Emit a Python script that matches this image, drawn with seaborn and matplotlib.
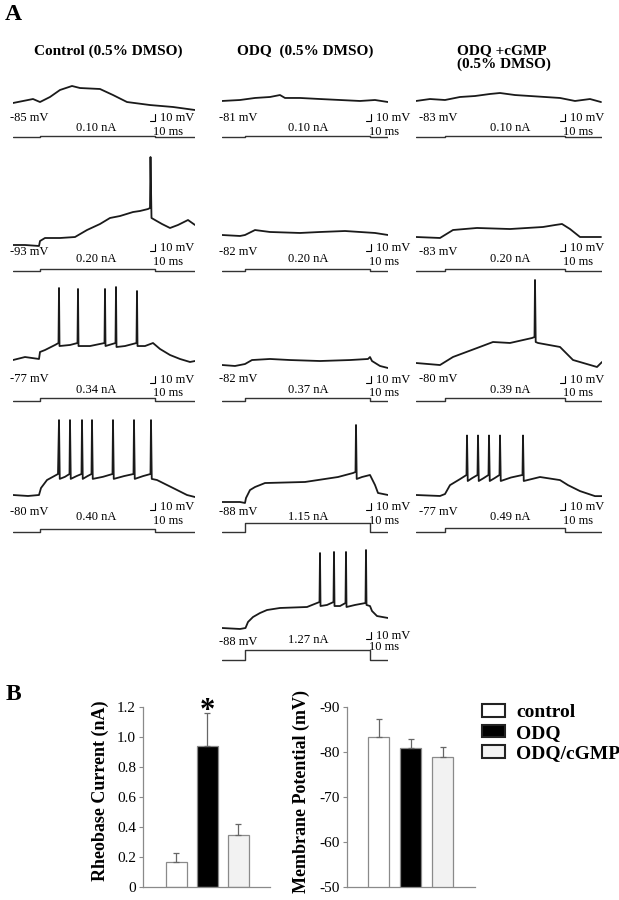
import matplotlib
matplotlib.use("Agg")
import matplotlib.pyplot as plt
from matplotlib.patches import Patch
import pandas as pd
import seaborn as sns

W, H = 619, 900
MS_PER_PX = 2.0        # 10 ms scale bar ~ 5 px
MV_PER_PX = 10 / 7     # 10 mV scale bar ~ 7 px
NA_PER_PX = 1 / 8

# ---- panel A: membrane potential traces, (ms, mV)
ctrl_r1 = [(0, -85), (40, -79.3), (54, -83.6), (74, -76.4), (94, -66.4), (118, -60.7),
           (134, -63.6), (174, -65), (200, -73.6), (228, -83.6), (274, -87.9),
           (320, -90.7), (364, -95)]
ctrl_r2 = [(0, -93), (24, -93), (52, -94.4), (54, -87.3), (64, -83), (94, -83), (124, -81.6),
           (148, -71.6), (174, -63), (194, -54.4), (214, -51.6), (240, -45.9), (254, -44.4),
           (270, -41.6), (274, -40.1), (275, 32.7), (277, -54.4), (284, -57.3), (298, -63),
           (314, -68.7), (330, -64.4), (350, -57.3), (364, -64.4)]
ctrl_r3 = [(0, -79.9), (24, -75.6), (52, -78.4), (54, -68.4), (64, -65.6), (84, -58.4),
           (91, -55.6), (92, 23), (93, -59.9), (114, -58.4), (129, -55.6), (130, 21.6),
           (131, -59.9), (154, -59.9), (183, -55.6), (184, 21.6), (185, -59.9), (205, -55.6),
           (206, 24.4), (207, -61.3), (224, -59.9), (247, -55.6), (248, 18.7), (249, -59.9),
           (264, -59.9), (280, -55.6), (294, -64.1), (314, -72.7), (334, -78.4),
           (354, -82.7), (364, -81.3)]
ctrl_r4 = [(0, -80), (30, -81.4), (52, -80), (56, -70), (68, -58.6), (90, -50), (92, 27),
           (93.5, -57), (104, -54), (113, -50), (114, 27), (115.5, -57), (127, -53),
           (137, -50), (138, 27), (139.5, -57), (149, -53), (157, -50), (158, 27),
           (159.5, -57), (180, -54), (199, -50), (200, 27), (201.5, -57), (222, -53),
           (241, -50), (242, 27), (243.5, -57), (260, -53), (275, -50), (276, 27),
           (277.5, -57), (288, -58.6), (304, -64.3), (324, -71.4), (348, -80), (364, -82.9)]
odq_r1 = [(0, -82.4), (36, -81), (66, -78.1), (96, -76.7), (116, -73.9), (126, -78.1),
          (156, -78.1), (196, -79.6), (236, -81), (276, -82.4), (306, -81), (332, -83.9)]
odq_r2 = [(0, -82), (36, -83.4), (46, -82), (66, -74.9), (96, -77.7), (156, -79.1),
          (196, -77.7), (246, -76.3), (276, -77.7), (306, -79.1), (332, -82)]
odq_r3 = [(0, -82), (26, -83.4), (46, -80.6), (60, -74.9), (96, -73.4), (136, -74.9),
          (196, -76.3), (256, -74.9), (292, -73.4), (296, -70.6), (300, -76.3),
          (316, -83.4), (332, -86.3)]
odq_r4 = [(0, -88), (36, -88), (46, -89.4), (48, -82.3), (56, -70.9), (66, -66.6),
          (86, -60.9), (166, -59.4), (232, -52.3), (262, -46.6), (267, -45.1), (268, 22),
          (269.4, -55.1), (280, -52.3), (296, -49.4), (306, -63.7), (312, -75.1), (332, -78)]
odq_r5 = [(0, -88), (36, -89.4), (47, -88), (52, -79.4), (62, -72.3), (76, -66.6),
          (90, -62.3), (116, -59.4), (170, -58), (190, -52.3), (195, -50.9), (196, 19.1),
          (197, -56.6), (210, -55.1), (223, -50.9), (224, 20.6), (225, -56.6), (236, -56.6),
          (247, -52.3), (248, 20.6), (249, -58), (266, -55.1), (287, -52.3), (288, 23.4),
          (289, -55.1), (296, -56.6), (300, -63.7), (310, -70.9), (332, -73.7)]
cgmp_r1 = [(0, -84.4), (28, -81.6), (58, -83), (88, -78.7), (118, -77.3), (148, -74.4),
           (168, -73), (198, -75.9), (228, -77.3), (258, -78.7), (288, -80.1),
           (318, -84.4), (348, -81.6), (370, -85.9)]
cgmp_r2 = [(0, -83), (48, -84.4), (74, -73), (122, -70.1), (188, -71.6), (254, -68.7),
           (278, -65.9), (292, -64.4), (308, -71.6), (328, -83), (348, -83), (370, -83)]
cgmp_r3 = [(0, -80), (48, -82.9), (74, -71.4), (122, -58.6), (154, -50), (188, -51.4),
           (232, -44.3), (237, -42.9), (238, 38.6), (239.4, -50), (244, -51.4), (288, -57.1),
           (314, -75.7), (362, -85.7), (372, -78.6)]
cgmp_r4 = [(0, -77), (48, -78.4), (58, -75.6), (68, -62.9), (88, -54.3), (101, -48.4),
           (102, 8), (103.5, -57), (112, -53), (123, -48.4), (124, 8), (125.5, -57),
           (135, -53), (145, -48.4), (146, 8), (147.5, -57), (157, -53), (167, -48.4),
           (168, 8), (169.5, -57), (190, -52), (213, -48.4), (214, 8), (215.5, -57),
           (248, -51.3), (288, -55.7), (304, -62.9), (328, -71.4), (358, -78.6), (372, -78.6)]

traces = [ctrl_r1, odq_r1, cgmp_r1, ctrl_r2, odq_r2, cgmp_r2,
          ctrl_r3, odq_r3, cgmp_r3, ctrl_r4, odq_r4, cgmp_r4, odq_r5]
rest_mv = [-85, -81, -83, -93, -82, -83, -77, -82, -80, -80, -88, -77, -88]
step_na = [0.10, 0.10, 0.10, 0.20, 0.20, 0.20, 0.34, 0.37, 0.39, 0.40, 1.15, 0.49, 1.27]

col_titles = ["Control (0.5% DMSO)", "ODQ  (0.5% DMSO)", "ODQ +cGMP\n(0.5% DMSO)"]
sweep_ms = [364, 332, 372]      # per column
step_on_ms = [54, 46, 58]
step_off_ms = [284, 296, 298]
SCALE_MS, SCALE_MV = 10, 10

# ---- panel B
groups = ["control", "ODQ", "ODQ/cGMP"]
rheobase_mean = [0.17, 0.94, 0.35]
rheobase_sem = [0.06, 0.22, 0.07]
vm_mean = [-83.3, -80.9, -78.9]
vm_sem = [4.0, 1.9, 2.2]
bar_colors = ["white", "black", "#f2f2f2"]

# ---- layout (pixels)
cell_row = [0, 0, 0, 1, 1, 1, 2, 2, 2, 3, 3, 3, 4]
cell_col = [0, 1, 2, 0, 1, 2, 0, 1, 2, 0, 1, 2, 1]
cell_ybase = [103, 100, 100, 245, 235, 237, 358, 365, 363, 495, 502, 495, 628]
X_START = [13, 222, 416]
X_MV = [10, 219, 419]
X_NA = [96, 308, 510]
X_SB = [150, 366, 560]
Y_MV = [118, 252, 379, 512, 642]
Y_NA = [128, 259, 390, 517, 640]
Y_SB = [118, 248, 380, 507, 636]
Y_MS = [132, 262, 393, 521, 647]
Y_CUR = [137, 271, 401, 532, 660]

sns.set_theme(style="ticks")
plt.rcParams["font.family"] = ["Liberation Serif", "DejaVu Serif"]
plt.rcParams["text.color"] = "black"
plt.rcParams["axes.labelcolor"] = "black"
plt.rcParams["ytick.labelcolor"] = "black"

fig = plt.figure(figsize=(W / 100, H / 100), dpi=100)
fig.patch.set_facecolor("white")


def px_axes(x0, x1, y_top, y_bot):
    return fig.add_axes([x0 / W, 1 - y_bot / H, (x1 - x0) / W, (y_bot - y_top) / H])


def ftext(x, y, s, **kw):
    kw.setdefault("va", "center")
    kw.setdefault("fontsize", 9)
    fig.text(x / W, 1 - y / H, s, color="black", **kw)


trace_color = "#1a1a1a"
for i, tr in enumerate(traces):
    r, c = cell_row[i], cell_col[i]
    rest, yb = rest_mv[i], cell_ybase[i]
    T = sweep_ms[c]
    x0 = X_START[c]
    x1 = x0 + T / MS_PER_PX
    df = pd.DataFrame(tr, columns=["t", "v"])

    ax = px_axes(x0, x1, yb - 130 / MV_PER_PX, yb + 30 / MV_PER_PX)
    sns.lineplot(data=df, x="t", y="v", ax=ax, color=trace_color, lw=1.3,
                 estimator=None, sort=False)
    ax.set_xlim(0, T)
    ax.set_ylim(rest - 30, rest + 130)
    ax.set_axis_off()

    # scale bar (10 ms / 10 mV), corner under the "10 mV" label
    tc = (X_SB[c] + 5 - x0) * MS_PER_PX
    vc = rest + (yb - (Y_SB[r] + 3)) * MV_PER_PX
    ax.plot([tc - SCALE_MS, tc, tc], [vc, vc, vc + SCALE_MV], color="black",
            lw=0.8, clip_on=False, solid_joinstyle="miter")

    # current command trace
    I = step_na[i]
    cur = pd.DataFrame({"t": [0, step_on_ms[c], step_on_ms[c], step_off_ms[c],
                              step_off_ms[c], T],
                        "i": [0, 0, I, I, 0, 0]})
    yc = Y_CUR[r]
    axc = px_axes(x0, x1, yc - 2 / NA_PER_PX, yc + 1 / NA_PER_PX)
    sns.lineplot(data=cur, x="t", y="i", ax=axc, color="#333333", lw=1.0,
                 estimator=None, sort=False)
    axc.set_xlim(0, T)
    axc.set_ylim(-1, 2)
    axc.set_axis_off()

    ftext(X_MV[c], Y_MV[r], f"{rest} mV", ha="left")
    ftext(X_NA[c], Y_NA[r], f"{I:.2f} nA", ha="center")
    ftext(X_SB[c] + 10, Y_SB[r], "10 mV", ha="left")
    ftext(X_SB[c] + 3, Y_MS[r], "10 ms", ha="left")

# column titles and panel letters
ftext(108, 51, col_titles[0], ha="center", fontsize=11, fontweight="bold")
ftext(305, 51, col_titles[1], ha="center", fontsize=11, fontweight="bold")
t1, t2 = col_titles[2].split("\n")
ftext(457, 51, t1, ha="left", fontsize=11, fontweight="bold")
ftext(457, 64, t2, ha="left", fontsize=11, fontweight="bold")
ftext(13, 14, "A", ha="center", fontsize=17, fontweight="bold")
ftext(13, 694, "B", ha="center", fontsize=17, fontweight="bold")

# ---- panel B bar charts
dfb = pd.DataFrame({"group": groups, "rheo": rheobase_mean, "vm": vm_mean})
spine_c = "#8a8a8a"


def bar_panel(ax, col, mean, sem, upward_sign):
    sns.barplot(data=dfb, x="group", y=col, hue="group", palette=bar_colors,
                width=0.66, edgecolor=spine_c, linewidth=0.9, legend=False, ax=ax)
    lower = [s if upward_sign < 0 else 0 for s in sem]
    upper = [s if upward_sign > 0 else 0 for s in sem]
    ax.errorbar(range(len(groups)), mean, yerr=[lower, upper], fmt="none",
                ecolor="#666666", elinewidth=0.9, capsize=2, capthick=0.9)
    sns.despine(ax=ax)
    for s in ("left", "bottom"):
        ax.spines[s].set_color(spine_c)
        ax.spines[s].set_linewidth(0.9)
    ax.set_xticks([])
    ax.set_xlabel("")
    ax.tick_params(axis="y", length=3, width=0.8, color=spine_c, labelsize=11,
                   pad=2, labelcolor="black")
    ax.set_facecolor("none")


ax1 = px_axes(143, 270, 707, 887)
bar_panel(ax1, "rheo", rheobase_mean, rheobase_sem, +1)
ax1.set_xlim(-1.08, 3.02)
ax1.set_ylim(0, 1.2)
ax1.set_yticks([0, 0.2, 0.4, 0.6, 0.8, 1.0, 1.2])
ax1.set_yticklabels(["0", "0.2", "0.4", "0.6", "0.8", "1.0", "1.2"])
ax1.set_ylabel("Rheobase Current (nA)", fontsize=13, fontweight="bold")
ax1.yaxis.label.set_va("center")
ax1.yaxis.set_label_coords(-0.339, 0.533)
ax1.text(1, 1.17, "*", ha="center", va="center", fontsize=22, fontweight="bold",
         clip_on=False)

ax2 = px_axes(347, 475, 707, 887)
bar_panel(ax2, "vm", vm_mean, vm_sem, -1)
ax2.set_xlim(-1.0, 3.02)
ax2.set_ylim(-50, -90)
ax2.set_yticks([-90, -80, -70, -60, -50])
ax2.set_yticklabels(["-90", "-80", "-70", "-60", "-50"])
ax2.set_ylabel("Membrane Potential (mV)", fontsize=13, fontweight="bold")
ax2.yaxis.label.set_va("center")
ax2.yaxis.set_label_coords(-0.36, 0.533)

handles = [Patch(facecolor=bc, edgecolor="#222222", linewidth=1.5) for bc in bar_colors]
fig.legend(handles, groups, loc="upper left", bbox_to_anchor=(482 / W, 1 - 704 / H),
           frameon=False, borderpad=0, borderaxespad=0, handlelength=1.2,
           handleheight=0.62, handletextpad=0.55, labelspacing=0.18,
           prop={"weight": "bold", "size": 14})

fig.savefig("out.png", dpi=100)
